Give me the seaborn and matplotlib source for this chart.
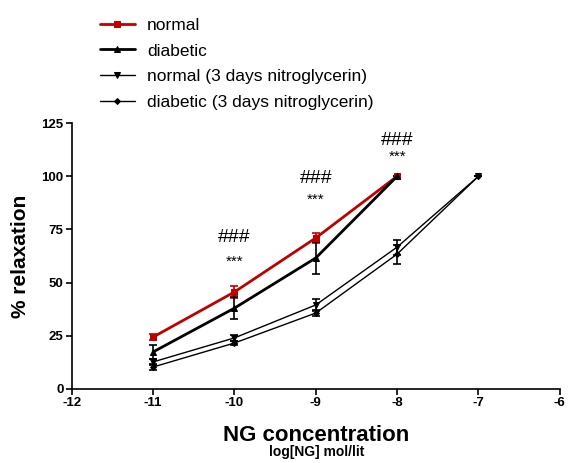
import pandas as pd
import matplotlib.pyplot as plt
import seaborn as sns

# log[NG] doses and mean % relaxation (+/- SEM)
dose = [-11, -10, -9, -8]
dose_ng = [-11, -10, -9, -8, -7]

normal = [24.4, 45.6, 71.0, 100]
normal_err = [1.5, 3.0, 2.5, 0]
diabetic = [17.4, 38.0, 61.6, 100]
diabetic_err = [3.2, 5.0, 7.5, 0]
normal_ng = [12.7, 24.0, 39.5, 66.7, 100]
normal_ng_err = [1.5, 1.5, 3.0, 3.5, 0]
diabetic_ng = [10.3, 21.6, 35.7, 63.4, 100]
diabetic_ng_err = [1.5, 1.0, 1.5, 4.5, 0]

# significance marks above the dose points
sig_x = [-10, -9, -8]
hash_y = [71, 99, 117]
star_y = [60, 89, 109]

sns.set_style("white")
plt.rcParams['font.family'] = ['Liberation Sans', 'DejaVu Sans']
plt.rcParams['text.color'] = 'black'
plt.rcParams['axes.labelcolor'] = 'black'
plt.rcParams['xtick.color'] = 'black'
plt.rcParams['ytick.color'] = 'black'
plt.rcParams['axes.edgecolor'] = 'black'
plt.rcParams['axes.unicode_minus'] = False

fig = plt.figure(figsize=(5.7, 4.63), dpi=100)
ax = fig.add_axes([0.126, 0.160, 0.856, 0.574])

series = [
    ("normal", dose, normal, normal_err, "#c00000", "s", 2.0, 5),
    ("diabetic", dose, diabetic, diabetic_err, "black", "^", 2.0, 5),
    ("normal (3 days nitroglycerin)", dose_ng, normal_ng, normal_ng_err, "black", "v", 1.0, 4),
    ("diabetic (3 days nitroglycerin)", dose_ng, diabetic_ng, diabetic_ng_err, "black", "D", 1.0, 3),
]

for name, x, y, err, color, marker, lw, ms in series:
    df = pd.DataFrame({"x": x, "y": y})
    ax.errorbar(x, y, yerr=err, fmt="none", ecolor=color, elinewidth=1.2,
                capsize=3, capthick=1.2, zorder=2)
    sns.lineplot(data=df, x="x", y="y", ax=ax, color=color, marker=marker,
                 markersize=ms, linewidth=lw, markeredgecolor=color,
                 label=name, zorder=3)

for x, hy, sy in zip(sig_x, hash_y, star_y):
    ax.text(x, hy, "###", ha="center", va="center", fontsize=14)
    ax.text(x, sy, "***", ha="center", va="center", fontsize=11)

ax.set_xlim(-12, -6)
ax.set_ylim(0, 125)
ax.set_xticks(range(-12, -5))
ax.set_yticks([0, 25, 50, 75, 100, 125])
for lab in ax.get_xticklabels() + ax.get_yticklabels():
    lab.set_fontweight("bold")
    lab.set_fontsize(9.5)

sns.despine(ax=ax)
ax.spines["left"].set_linewidth(1.2)
ax.spines["bottom"].set_linewidth(1.2)
ax.tick_params(axis="both", direction="out", length=4, width=1.2,
               bottom=True, left=True, pad=2)

ax.set_xlabel("NG concentration", fontsize=16, fontweight="bold", labelpad=11)
ax.set_ylabel("% relaxation", fontsize=15, fontweight="bold", labelpad=8)
fig.text(0.555, 0.008, "log[NG] mol/lit", ha="center", va="bottom",
         fontsize=10, fontweight="bold")

ax.legend(loc="lower left", bbox_to_anchor=(0.033, 1.005), frameon=False,
          fontsize=12.5, handlelength=2.0, labelspacing=0.6,
          borderaxespad=0.3, handletextpad=0.7)

fig.savefig("out.png", dpi=100)
